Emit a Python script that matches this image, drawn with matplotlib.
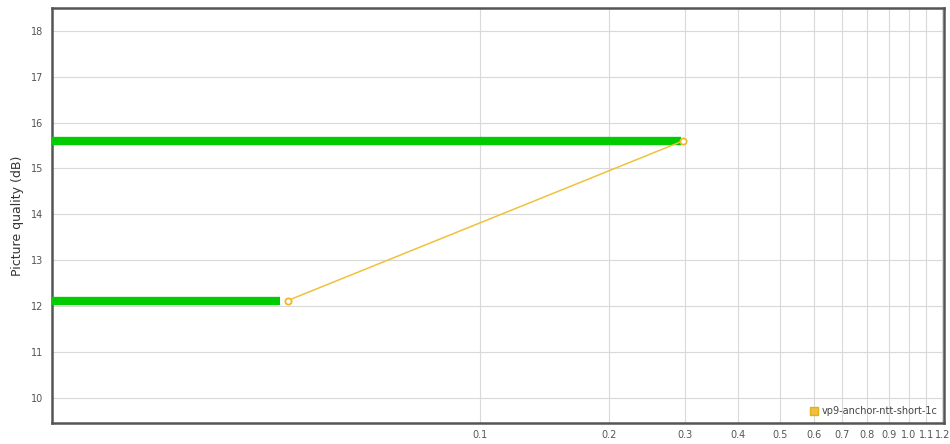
import numpy as np
import matplotlib
matplotlib.use("Agg")
import matplotlib.pyplot as plt
from matplotlib.patches import Patch

# ── Data ─────────────────────────────────────────────────────────────────────
series_name = "vp9-anchor-ntt-short-1c"
bitrate     = [0.0355, 0.297]     # x, log scale
quality_db  = [12.12, 15.60]      # Picture quality (dB)
bar_end     = [0.0340, 0.295]     # green reference bars end here

x_ticks  = [0.1, 0.2, 0.3, 0.4, 0.5, 0.6, 0.7, 0.8, 0.9, 1.0, 1.1, 1.2]
y_ticks  = [10, 11, 12, 13, 14, 15, 16, 17, 18]

XMIN, XMAX = 0.01, 1.21
YMIN, YMAX = 9.45, 18.5

# ── Plot ─────────────────────────────────────────────────────────────────────
fig = plt.figure(figsize=(9.5, 4.44), dpi=100)
ax = fig.add_axes([52 / 950, 1 - 423 / 444, (944 - 52) / 950, (423 - 8) / 444])

# green horizontal bars from the left edge
for yv, xe in zip(quality_db, bar_end):
    ax.plot([XMIN, xe], [yv, yv], color="#00cc00", lw=6.0,
            solid_capstyle="butt", zorder=3)

# series line with open markers
ax.plot(bitrate, quality_db, color="#f0c23b", lw=1.1, marker="o",
        markersize=4.5, markerfacecolor="white", markeredgecolor="#ecb92c",
        markeredgewidth=1.3, zorder=4)

ax.set_xscale("log")
ax.set_xlim(XMIN, XMAX)
ax.set_ylim(YMIN, YMAX)

ax.set_xticks(x_ticks)
ax.set_xticklabels([f"{v:.1f}" for v in x_ticks])
ax.xaxis.set_minor_locator(matplotlib.ticker.NullLocator())
ax.set_yticks(y_ticks)
ax.set_yticklabels([str(v) for v in y_ticks])

ax.tick_params(axis="both", length=0, labelsize=7, labelcolor="#555555")
ax.tick_params(axis="x", pad=5)
ax.tick_params(axis="y", pad=6)

ax.grid(True, color="#d9d9d9", lw=0.8)
ax.set_axisbelow(True)

for s in ax.spines.values():
    s.set_color("#555555")
    s.set_linewidth(1.8)

ax.set_ylabel("Picture quality (dB)", fontsize=9, color="#333333", labelpad=5)

leg = ax.legend(handles=[Patch(facecolor="#f0c23b", edgecolor="#e0b020",
                               label=series_name)],
                loc="lower right", fontsize=7, frameon=False,
                handlelength=0.9, handleheight=0.9, handletextpad=0.3,
                borderaxespad=0.3)
for t in leg.get_texts():
    t.set_color("#444444")

fig.savefig("out.png", dpi=100)
